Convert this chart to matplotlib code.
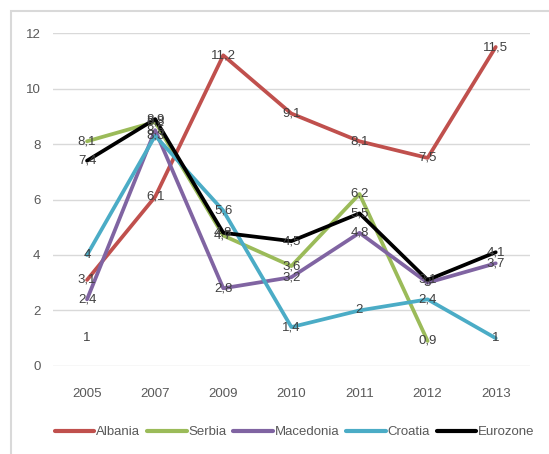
import numpy as np
import matplotlib.pyplot as plt
from matplotlib.patches import Rectangle

# Data
years = ['2005', '2007', '2009', '2010', '2011', '2012', '2013']
albania = [3.1, 6.1, 11.2, 9.1, 8.1, 7.5, 11.5]
serbia = [8.1, 8.8, 4.7, 3.6, 6.2, 0.9, np.nan]
macedonia = [2.4, 8.5, 2.8, 3.2, 4.8, 3.0, 3.7]
croatia = [4, 8.3, 5.6, 1.4, 2, 2.4, 1]
eurozone = [7.4, 8.9, 4.8, 4.5, 5.5, 3.1, 4.1]

series = [
    ('Albania', albania, '#C0504D'),
    ('Serbia', serbia, '#9BBB59'),
    ('Macedonia', macedonia, '#8064A2'),
    ('Croatia', croatia, '#4BACC6'),
    ('Eurozone', eurozone, '#000000'),
]

plt.rcParams['font.family'] = ['Liberation Sans', 'DejaVu Sans']

fig = plt.figure(figsize=(5.49, 4.54), dpi=100)
ax = fig.add_axes([0.0965, 0.194, 0.8685, 0.733])

x = np.arange(len(years))
for name, vals, color in series:
    ax.plot(x, vals, color=color, lw=2.7, label=name, solid_capstyle='round', zorder=3)

# data labels centred on the points
for name, vals, color in series:
    for xi, v in zip(x, vals):
        if np.isnan(v):
            continue
        txt = f'{v:g}'.replace('.', ',')
        ax.text(xi, v, txt, ha='center', va='center', fontsize=9.5,
                color='#404040', zorder=4)

# stray label under 2005
ax.text(0, 1, '1', ha='center', va='center', fontsize=9.5, color='#404040', zorder=4)

ax.set_xlim(-0.5, len(years) - 0.5)
ax.set_ylim(0, 12)
ax.set_yticks(range(0, 13, 2))
ax.set_xticks(x)
ax.set_xticklabels(years)
ax.yaxis.grid(True, color='#D9D9D9', lw=1)
ax.set_axisbelow(True)
for s in ax.spines.values():
    s.set_visible(False)
ax.tick_params(length=0, labelsize=9.5, colors='#595959')
ax.tick_params(axis='y', pad=9)
ax.tick_params(axis='x', pad=16)

leg = fig.legend(loc='center', bbox_to_anchor=(0.537, 0.048), ncol=5, frameon=False,
                 fontsize=9.5, handlelength=3.0, columnspacing=0.5, handletextpad=0.15)
for line in leg.get_lines():
    line.set_linewidth(3)
for t in leg.get_texts():
    t.set_color('#595959')

# outer chart border
fig.patches.append(Rectangle((11 / 549, -0.01), 0.99, 1 - 11 / 454 + 0.01,
                             transform=fig.transFigure, fill=False,
                             edgecolor='#D9D9D9', lw=1.5))

fig.savefig('out.png', dpi=100)
